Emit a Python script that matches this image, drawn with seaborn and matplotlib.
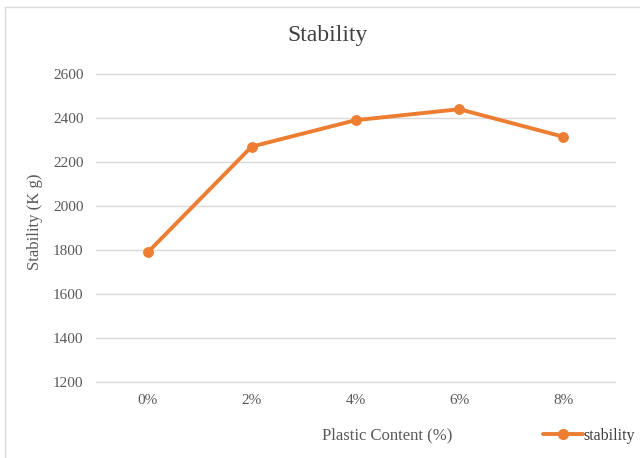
import matplotlib
matplotlib.use("Agg")
import matplotlib.pyplot as plt
import seaborn as sns
import pandas as pd
from matplotlib.lines import Line2D

categories = ["0%", "2%", "4%", "6%", "8%"]
stability = [1790, 2270, 2390, 2440, 2315]
yticks = [1200, 1400, 1600, 1800, 2000, 2200, 2400, 2600]

sns.set_theme(style="white")
plt.rcParams['font.family'] = ['Liberation Serif', 'DejaVu Serif']

df = pd.DataFrame({"Plastic Content (%)": categories, "stability": stability})

fig = plt.figure(figsize=(6.4, 4.58), dpi=100)
ax = fig.add_axes([96/640, 1-382/458, (615-96)/640, (382-74)/458])

color = "#ED7D31"
sns.lineplot(data=df, x="Plastic Content (%)", y="stability", ax=ax, color=color,
             linewidth=2.8, marker="o", markersize=7, markeredgecolor=color,
             label="stability", sort=False)

ax.set_xlim(-0.5, 4.5)
ax.set_ylim(1200, 2600)
ax.set_yticks(yticks)
ax.set_yticklabels([str(v) for v in yticks])
for s in ax.spines.values():
    s.set_visible(False)
ax.yaxis.grid(True, color="#d9d9d9", linewidth=1)
for gl in ax.get_ygridlines():
    gl.set_clip_on(False)
ax.set_axisbelow(True)
ax.tick_params(axis="both", length=0, labelsize=11, colors="#595959")
ax.tick_params(axis="y", pad=9)
ax.tick_params(axis="x", pad=9)

ax.set_xlabel("")
ax.set_ylabel("")
fig.text(35/640, 1-222/458, "Stability (K g)", ha="center", va="center",
         rotation=90, fontsize=12, color="#595959")
fig.text(387/640, 1-435/458, "Plastic Content (%)", ha="center", va="center",
         fontsize=12, color="#595959")
fig.text(328/640, 1-35/458, "Stability", ha="center", va="center",
         fontsize=17, color="#404040")

leg = ax.get_legend()
if leg is not None:
    leg.remove()
handle = Line2D([], [], color=color, linewidth=2.8, marker="o", markersize=7)
fig.legend(handles=[handle], labels=["stability"], loc="center right",
           bbox_to_anchor=(1.0, 1-436/458), frameon=False, fontsize=11.5,
           handlelength=2.5, handletextpad=0.05, labelcolor="#404040",
           borderpad=0, borderaxespad=0.3)

fig.add_artist(Line2D([5/640, 5/640], [0, 1-7/458], transform=fig.transFigure,
                      color="#d9d9d9", linewidth=1))
fig.add_artist(Line2D([5/640, 1], [1-7/458, 1-7/458], transform=fig.transFigure,
                      color="#d9d9d9", linewidth=1))

fig.savefig("out.png", dpi=100, facecolor="white")
